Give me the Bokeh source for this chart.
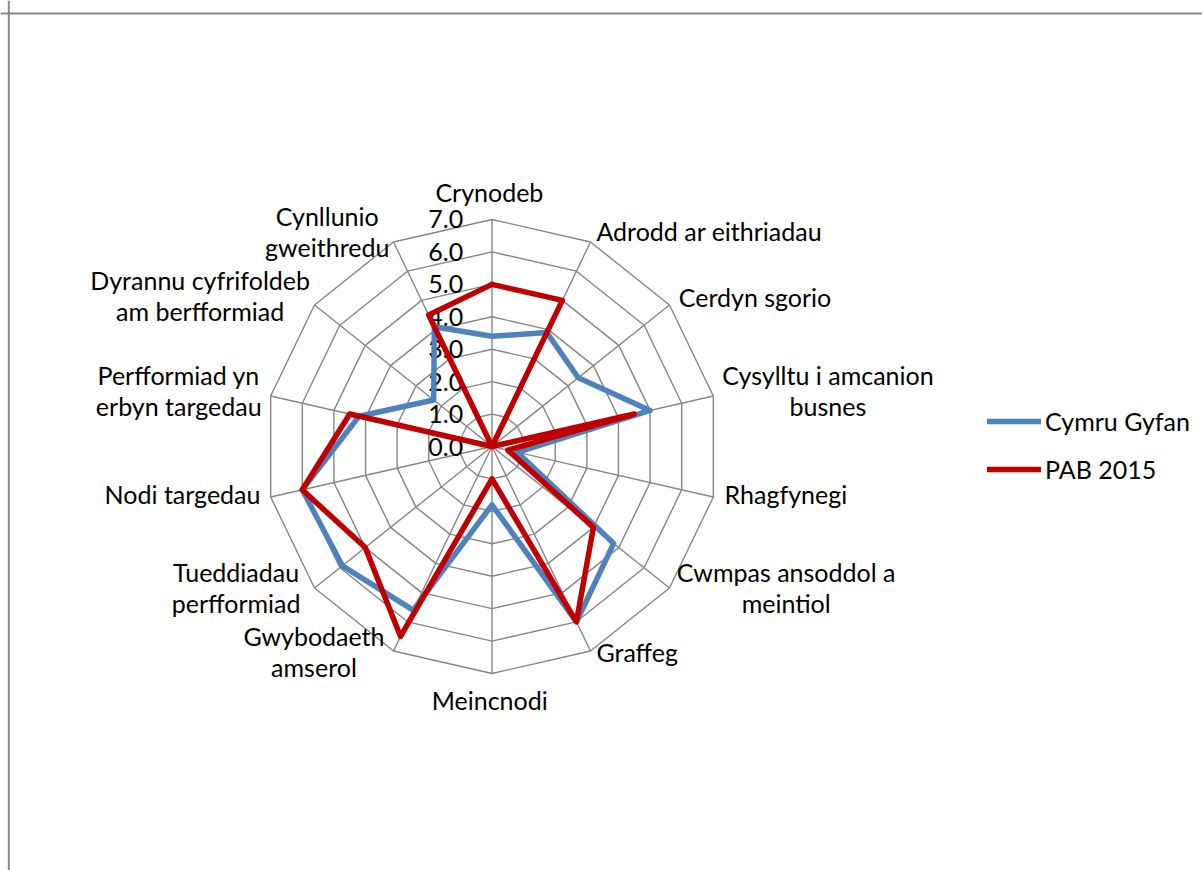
import numpy as np
from bokeh.plotting import figure
from bokeh.models import Range1d, Span, Legend, LegendItem, ColumnDataSource
from bokeh.embed import file_html
from bokeh.resources import INLINE
from bokeh.core.properties import value

# ---------------- data ----------------
categories = [
    "Crynodeb", "Adrodd ar eithriadau", "Cerdyn sgorio",
    "Cysylltu i amcanion\nbusnes", "Rhagfynegi", "Cwmpas ansoddol a\nmeintiol",
    "Graffeg", "Meincnodi", "Gwybodaeth\namserol", "Tueddiadau\nperfformiad",
    "Nodi targedau", "Perfformiad yn\nerbyn targedau",
    "Dyrannu cyfrifoldeb\nam berfformiad", "Cynllunio\ngweithredu",
]
cymru_gyfan = [3.4, 3.9, 3.4, 5.0, 0.8, 4.8, 6.0, 1.8, 5.6, 5.9, 6.0, 4.2, 2.3, 4.1]
pab_2015 = [5.0, 5.0, 0.0, 4.5, 0.5, 4.0, 6.0, 1.0, 6.5, 5.0, 6.0, 4.5, 0.0, 4.5]
tick_values = [0, 1, 2, 3, 4, 5, 6, 7]
tick_labels = ["0.0", "1.0", "2.0", "3.0", "4.0", "5.0", "6.0", "7.0"]
series_names = ["Cymru Gyfan", "PAB 2015"]

# ---------------- layout ----------------
U = 32.43                 # pixels per value unit
W, H = 1202, 870
CX, CY = 491.5, 446.0     # chart centre in figure pixels
FONT = "Lato"
FS = "25px"
GRID = "#868686"

# label centres (value units, relative to centre) and alignment
label_x = [-0.08, 3.22, 5.76, 10.36, 7.17, 9.07, 3.22, -0.07, -5.49, -7.89, -7.14, -9.66, -9.00, -5.08]
label_y = [7.86, 6.63, 4.62, 1.73, -1.48, -4.34, -6.34, -7.83, -6.33, -4.34, -1.48, 1.73, 4.65, 6.64]
label_align = ["center", "left", "left", "center", "left", "center", "left",
               "center", "center", "center", "right", "center", "center", "center"]

n = len(categories)
theta = np.arange(n) * 2 * np.pi / n

p = figure(width=W, height=H, output_backend="svg", toolbar_location=None,
           x_range=Range1d(-CX / U, (W - CX) / U),
           y_range=Range1d(-(H - CY) / U, CY / U),
           min_border=0, outline_line_color=None)
p.axis.visible = False
p.grid.visible = False
p.background_fill_color = "white"
p.border_fill_color = "white"

# frame of the chart area (top and left edges visible)
p.add_layout(Span(location=(CY - 13) / U, dimension="width", line_color="#898989", line_width=2))
p.add_layout(Span(location=(8.3 - CX) / U, dimension="height", line_color="#898989", line_width=2))

# radar grid
rmax = tick_values[-1]
ring_xs, ring_ys = [], []
for t in tick_values[1:]:
    ring_xs.append(list(t * np.sin(np.append(theta, theta[0]))))
    ring_ys.append(list(t * np.cos(np.append(theta, theta[0]))))
p.multi_line(ring_xs, ring_ys, line_color=GRID, line_width=1.4)
spoke_xs = [[0, rmax * np.sin(a)] for a in theta]
spoke_ys = [[0, rmax * np.cos(a)] for a in theta]
p.multi_line(spoke_xs, spoke_ys, line_color=GRID, line_width=1.4)

# value axis labels
p.text(x=[-28.8 / U] * len(tick_values), y=tick_values, text=tick_labels,
       text_font=value(FONT), text_font_size=FS, text_align="right",
       text_baseline="middle", text_color="black")

# series
def closed_xy(vals):
    v = np.array(vals + vals[:1], dtype=float)
    a = np.append(theta, theta[0])
    return v * np.sin(a), v * np.cos(a)

bx, by = closed_xy(cymru_gyfan)
rx, ry = closed_xy(pab_2015)
r_blue = p.line(bx, by, line_color="#4F81BD", line_width=5.5, line_join="round", line_cap="round")
r_red = p.line(rx, ry, line_color="#C00000", line_width=5.5, line_join="round", line_cap="round")

# category labels
src = ColumnDataSource(dict(x=label_x, y=label_y, text=categories, align=label_align))
p.text(x="x", y="y", text="text", source=src, text_align="align",
       text_baseline="middle", text_font=value(FONT), text_font_size=FS,
       text_line_height=1.03, text_color="black")

legend = Legend(items=[LegendItem(label=series_names[0], renderers=[r_blue]),
                       LegendItem(label=series_names[1], renderers=[r_red])],
                location=(987, 386), glyph_width=54, glyph_height=24,
                label_height=24, label_standoff=4, spacing=18, padding=0, margin=0,
                label_text_font=FONT, label_text_font_size=FS, label_text_color="black",
                border_line_color=None, background_fill_alpha=0)
p.add_layout(legend)

open("out.html", "w").write(file_html(p, INLINE))
